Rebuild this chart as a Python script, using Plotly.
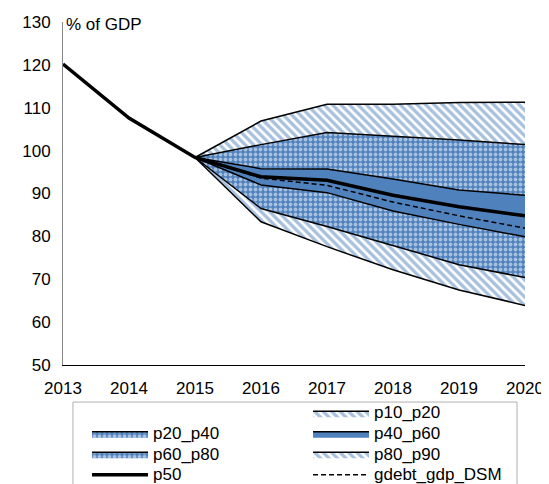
import plotly.graph_objects as go

# data
years = [2013, 2014, 2015, 2016, 2017, 2018, 2019, 2020]
band_years = [2015, 2016, 2017, 2018, 2019, 2020]

p50 = [120.2, 107.6, 98.4, 93.9, 93.1, 89.6, 86.9, 84.8]
p10 = [98.4, 83.4, 77.6, 72.2, 67.5, 63.9]
p20 = [98.4, 86.5, 82.3, 77.9, 73.4, 70.4]
p40 = [98.4, 92.0, 90.2, 85.9, 82.8, 79.9]
p60 = [98.4, 95.8, 95.7, 93.4, 90.8, 89.6]
p80 = [98.4, 101.4, 104.2, 103.4, 102.5, 101.4]
p90 = [98.4, 106.9, 110.8, 110.8, 111.2, 111.3]
gdebt_gdp_DSM = [98.4, 93.6, 91.9, 88.0, 84.8, 81.9]

BLUE = "#4F81BD"
FONT = "Liberation Sans, Arial, sans-serif"

stripes = dict(shape="\\", fgcolor=BLUE, bgcolor="white", size=6, solidity=0.55)
dots = dict(shape=".", fgcolor="white", bgcolor=BLUE, size=5, solidity=0.45)
edge = dict(color="black", width=1.5)


def lbl(s):
    # legend rows are tighter than the text size in the original
    return '<span style="font-size:17px">%s</span>' % s


fig = go.Figure()

# legend placeholder so the columns line up as in the original
fig.add_trace(go.Scatter(x=[None], y=[None], mode="lines", name=" ",
                         line=dict(color="rgba(0,0,0,0)", width=0), legendrank=1))

fig.add_trace(go.Scatter(x=band_years, y=p10, mode="lines", line=edge,
                         showlegend=False, hoverinfo="skip"))
bands = [
    (p20, "p10_p20", stripes, 2),
    (p40, "p20_p40", dots, 3),
    (p60, "p40_p60", None, 4),
    (p80, "p60_p80", dots, 5),
    (p90, "p80_p90", stripes, 6),
]
for vals, name, pattern, rank in bands:
    kw = dict(fillpattern=pattern, fillcolor="white") if pattern else dict(fillcolor=BLUE)
    fig.add_trace(go.Scatter(x=band_years, y=vals, mode="lines", line=edge,
                             fill="tonexty", name=lbl(name), legendrank=rank, **kw))

fig.add_trace(go.Scatter(x=years, y=p50, mode="lines", name=lbl("p50"),
                         line=dict(color="black", width=3.5), legendrank=7))
fig.add_trace(go.Scatter(x=band_years, y=gdebt_gdp_DSM, mode="lines", name=lbl("gdebt_gdp_DSM"),
                         line=dict(color="black", width=1.5, dash="5px,3px"), legendrank=8))

# the page body adds an 8px offset, so the figure is 8px smaller each way
fig.update_layout(
    template="simple_white",
    width=541, height=476,
    margin=dict(l=55, r=24, t=14, b=119, autoexpand=False),
    font=dict(family=FONT, size=17, color="black"),
    showlegend=True,
    legend=dict(orientation="h", x=0.052, y=-0.096, xanchor="left", yanchor="top",
                traceorder="normal", entrywidth=150, itemwidth=56,
                bgcolor="rgba(0,0,0,0)", borderwidth=0, font=dict(size=13.5)),
    # legend frame, runs off the bottom edge like the original
    shapes=[dict(type="rect", xref="paper", yref="paper", x0=0.0216, x1=0.9827,
                 y0=-0.108, y1=-0.40, fillcolor="rgba(0,0,0,0)",
                 line=dict(color="black", width=1))],
    annotations=[dict(text="% of GDP", xref="paper", yref="paper", x=0, y=1,
                      xanchor="left", yanchor="middle", showarrow=False, xshift=1,
                      yshift=-2, font=dict(size=17))],
)
fig.update_xaxes(range=[2013, 2020], tickvals=years, ticks="", showline=True,
                 linecolor="black", linewidth=1, showgrid=False, ticklabelstandoff=8)
fig.update_yaxes(range=[50, 130], dtick=10, ticks="", showline=True,
                 linecolor="#868686", linewidth=1, showgrid=False, ticklabelstandoff=8)

fig.write_html("out.html")
